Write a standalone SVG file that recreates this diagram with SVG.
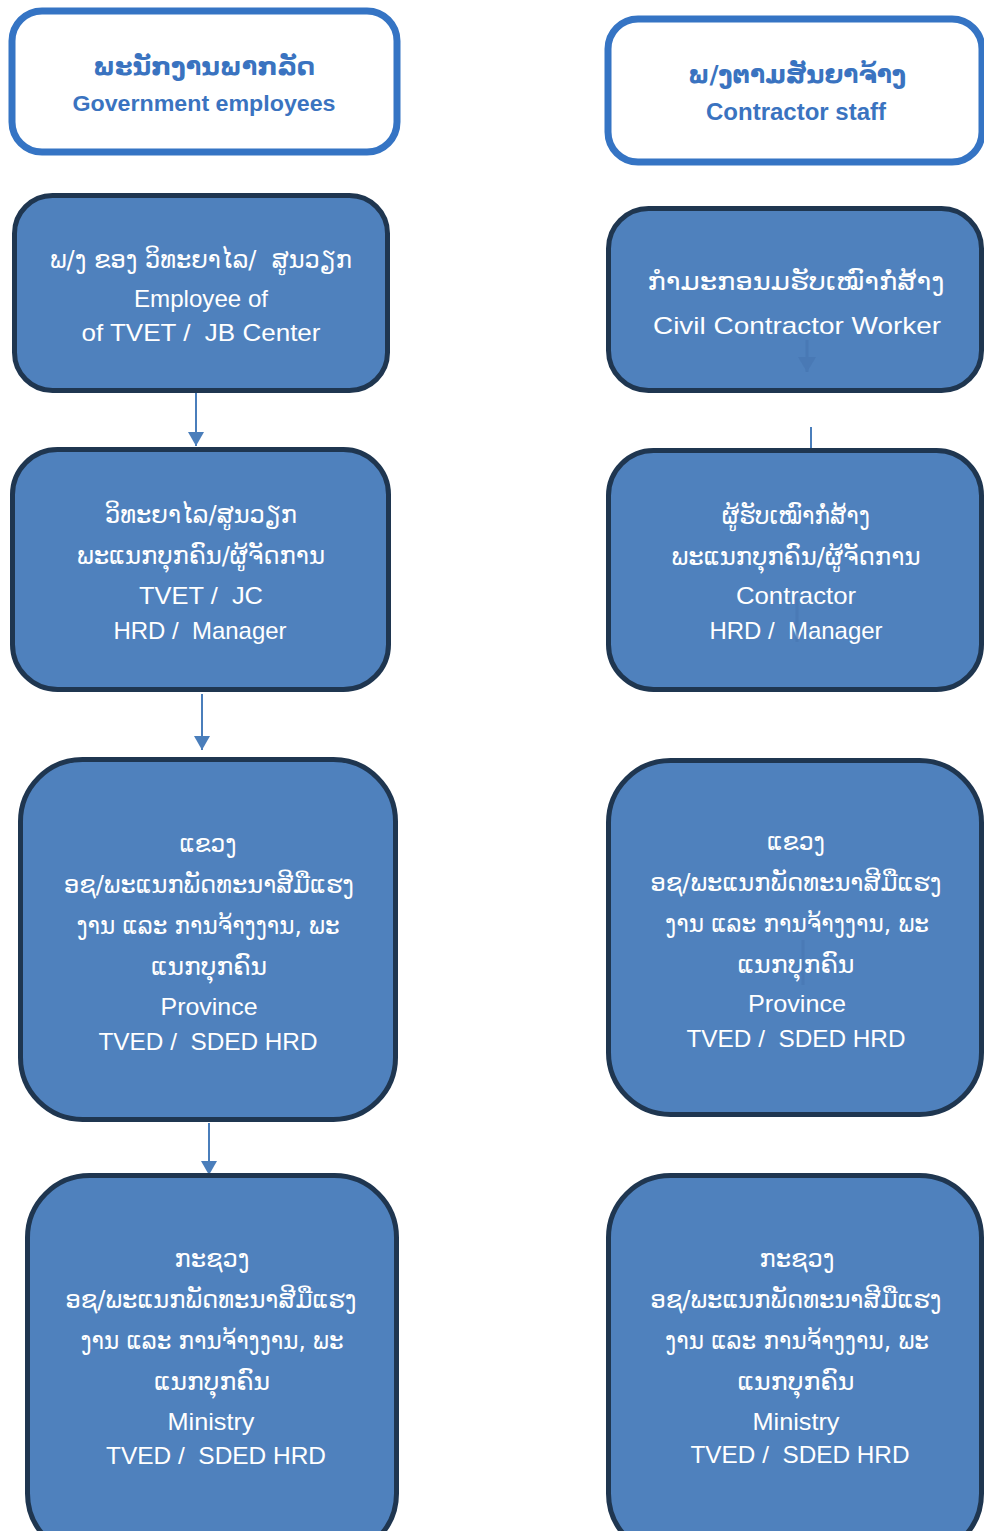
<svg xmlns="http://www.w3.org/2000/svg" width="984" height="1531" viewBox="0 0 984 1531">
<defs>
<style>
.hdr{fill:#ffffff;stroke:#3574c4;stroke-width:7}
.box{fill:#4f81bd;stroke:#1f3650;stroke-width:5}
.ht{fill:#3a73c0;font-family:"Liberation Sans","DejaVu Sans",sans-serif;font-weight:bold;text-anchor:middle}
.t{fill:#ffffff;font-family:"Liberation Sans","DejaVu Sans",sans-serif;font-size:24px;text-anchor:middle}
.lao{font-family:"DejaVu Sans","Liberation Sans",sans-serif;font-size:24px}
.con{stroke:#4a7ebb;stroke-width:2;fill:none}
.faint{stroke:#4878b4;stroke-width:3;fill:none;opacity:0.8}
</style>
<marker id="ah" markerWidth="8" markerHeight="8" refX="7" refY="4" orient="auto" markerUnits="strokeWidth">
<path d="M0,0 L7,4 L0,8 Z" fill="#4a7ebb"/>
</marker>
<marker id="ahf" markerWidth="6" markerHeight="6" refX="5" refY="3" orient="auto" markerUnits="strokeWidth">
<path d="M0,0 L5,3 L0,6 Z" fill="#4878b4"/>
</marker>
</defs>

<g id="connectors">
<line class="con" x1="196" y1="393" x2="196" y2="446" marker-end="url(#ah)"/>
<line class="con" x1="202" y1="694" x2="202" y2="750" marker-end="url(#ah)"/>
<line class="con" x1="209" y1="1123" x2="209" y2="1175" marker-end="url(#ah)"/>
<line class="con" x1="811" y1="427" x2="811" y2="449"/>
</g>

<g id="hdr-gov">
<rect class="hdr" x="12" y="11" width="385" height="141" rx="30"/>
<text class="ht lao" x="204" y="75" font-size="26" textLength="222" lengthAdjust="spacingAndGlyphs">ພະນັກງານພາກລັດ</text>
<text class="ht" x="204" y="111" font-size="22" textLength="263" lengthAdjust="spacingAndGlyphs">Government employees</text>
</g>

<g id="hdr-con">
<rect class="hdr" x="608" y="19" width="374" height="143" rx="30"/>
<text class="ht lao" x="797" y="83" font-size="26" textLength="218" lengthAdjust="spacingAndGlyphs">ພ/ງຕາມສັນຍາຈ້າງ</text>
<text class="ht" x="796" y="120" font-size="23" textLength="180" lengthAdjust="spacingAndGlyphs">Contractor staff</text>
</g>

<g id="gov-1">
<rect class="box" x="14.5" y="195.5" width="373" height="195" rx="38"/>
<text class="t lao" x="201" y="268" textLength="302" lengthAdjust="spacingAndGlyphs">ພ/ງ ຂອງ ວິທະຍາໄລ/&#160; ສູນວຽກ</text>
<text class="t" x="201" y="307" textLength="134" lengthAdjust="spacingAndGlyphs">Employee of</text>
<text class="t" x="201" y="341" textLength="239" lengthAdjust="spacingAndGlyphs">of TVET /&#160; JB Center</text>
</g>

<g id="gov-2">
<rect class="box" x="12.5" y="449.5" width="376" height="240" rx="45"/>
<text class="t lao" x="201" y="523" textLength="192" lengthAdjust="spacingAndGlyphs">ວິທະຍາໄລ/ສູນວຽກ</text>
<text class="t lao" x="201" y="564" textLength="248" lengthAdjust="spacingAndGlyphs">ພະແນກບຸກຄົນ/ຜູ້ຈັດການ</text>
<text class="t" x="201" y="604" textLength="124" lengthAdjust="spacingAndGlyphs">TVET /&#160; JC</text>
<text class="t" x="200" y="639" textLength="173" lengthAdjust="spacingAndGlyphs">HRD /&#160; Manager</text>
</g>

<g id="gov-3">
<rect class="box" x="20.5" y="759.5" width="375" height="360" rx="62"/>
<text class="t lao" x="208" y="852" textLength="57" lengthAdjust="spacingAndGlyphs">ແຂວງ</text>
<text class="t lao" x="209" y="893" textLength="290" lengthAdjust="spacingAndGlyphs">ອຊ/ພະແນກພັດທະນາສີມືແຮງ</text>
<text class="t lao" x="208" y="934" textLength="263" lengthAdjust="spacingAndGlyphs">ງານ ແລະ ການຈ້າງງານ, ພະ</text>
<text class="t lao" x="209" y="975" textLength="116" lengthAdjust="spacingAndGlyphs">ແນກບຸກຄົນ</text>
<text class="t" x="209" y="1015" textLength="97" lengthAdjust="spacingAndGlyphs">Province</text>
<text class="t" x="208" y="1050" textLength="219" lengthAdjust="spacingAndGlyphs">TVED /&#160; SDED HRD</text>
</g>

<g id="gov-4">
<rect class="box" x="27.5" y="1175.5" width="369" height="380" rx="62"/>
<text class="t lao" x="212" y="1267" textLength="75" lengthAdjust="spacingAndGlyphs">ກະຊວງ</text>
<text class="t lao" x="211" y="1308" textLength="291" lengthAdjust="spacingAndGlyphs">ອຊ/ພະແນກພັດທະນາສີມືແຮງ</text>
<text class="t lao" x="212" y="1349" textLength="263" lengthAdjust="spacingAndGlyphs">ງານ ແລະ ການຈ້າງງານ, ພະ</text>
<text class="t lao" x="212" y="1390" textLength="116" lengthAdjust="spacingAndGlyphs">ແນກບຸກຄົນ</text>
<text class="t" x="211" y="1430" textLength="87" lengthAdjust="spacingAndGlyphs">Ministry</text>
<text class="t" x="216" y="1464" textLength="220" lengthAdjust="spacingAndGlyphs">TVED /&#160; SDED HRD</text>
</g>

<g id="con-1">
<rect class="box" x="608.5" y="208.5" width="373" height="182" rx="40"/>
<text class="t lao" x="796" y="290" font-size="26" textLength="297" lengthAdjust="spacingAndGlyphs">ກຳມະກອນມຮັບເໝົາກໍ່ສ້າງ</text>
<text class="t" x="797" y="334" font-size="26" textLength="288" lengthAdjust="spacingAndGlyphs">Civil Contractor Worker</text>
</g>

<g id="con-2">
<rect class="box" x="608.5" y="450.5" width="373" height="239" rx="45"/>
<text class="t lao" x="796" y="524" textLength="148" lengthAdjust="spacingAndGlyphs">ຜູ້ຮັບເໝົາກໍ່ສ້າງ</text>
<text class="t lao" x="796" y="565" textLength="249" lengthAdjust="spacingAndGlyphs">ພະແນກບຸກຄົນ/ຜູ້ຈັດການ</text>
<text class="t" x="796" y="604" textLength="120" lengthAdjust="spacingAndGlyphs">Contractor</text>
<text class="t" x="796" y="639" textLength="173" lengthAdjust="spacingAndGlyphs">HRD /&#160; Manager</text>
</g>

<g id="con-3">
<rect class="box" x="608.5" y="760.5" width="373" height="354" rx="62"/>
<text class="t lao" x="796" y="850" textLength="58" lengthAdjust="spacingAndGlyphs">ແຂວງ</text>
<text class="t lao" x="796" y="891" textLength="291" lengthAdjust="spacingAndGlyphs">ອຊ/ພະແນກພັດທະນາສີມືແຮງ</text>
<text class="t lao" x="797" y="932" textLength="264" lengthAdjust="spacingAndGlyphs">ງານ ແລະ ການຈ້າງງານ, ພະ</text>
<text class="t lao" x="796" y="973" textLength="117" lengthAdjust="spacingAndGlyphs">ແນກບຸກຄົນ</text>
<text class="t" x="797" y="1012" textLength="98" lengthAdjust="spacingAndGlyphs">Province</text>
<text class="t" x="796" y="1047" textLength="219" lengthAdjust="spacingAndGlyphs">TVED /&#160; SDED HRD</text>
</g>

<g id="con-4">
<rect class="box" x="608.5" y="1175.5" width="373" height="380" rx="62"/>
<text class="t lao" x="797" y="1267" textLength="75" lengthAdjust="spacingAndGlyphs">ກະຊວງ</text>
<text class="t lao" x="796" y="1308" textLength="291" lengthAdjust="spacingAndGlyphs">ອຊ/ພະແນກພັດທະນາສີມືແຮງ</text>
<text class="t lao" x="797" y="1349" textLength="264" lengthAdjust="spacingAndGlyphs">ງານ ແລະ ການຈ້າງງານ, ພະ</text>
<text class="t lao" x="796" y="1390" textLength="117" lengthAdjust="spacingAndGlyphs">ແນກບຸກຄົນ</text>
<text class="t" x="796" y="1430" textLength="87" lengthAdjust="spacingAndGlyphs">Ministry</text>
<text class="t" x="800" y="1463" textLength="219" lengthAdjust="spacingAndGlyphs">TVED /&#160; SDED HRD</text>
</g>

<g id="faint-connectors">
<line class="faint" x1="807" y1="340" x2="807" y2="372" marker-end="url(#ahf)"/>
<line class="faint" x1="797" y1="598" x2="797" y2="642"/>
<line class="faint" x1="803" y1="940" x2="803" y2="985"/>
</g>
</svg>
